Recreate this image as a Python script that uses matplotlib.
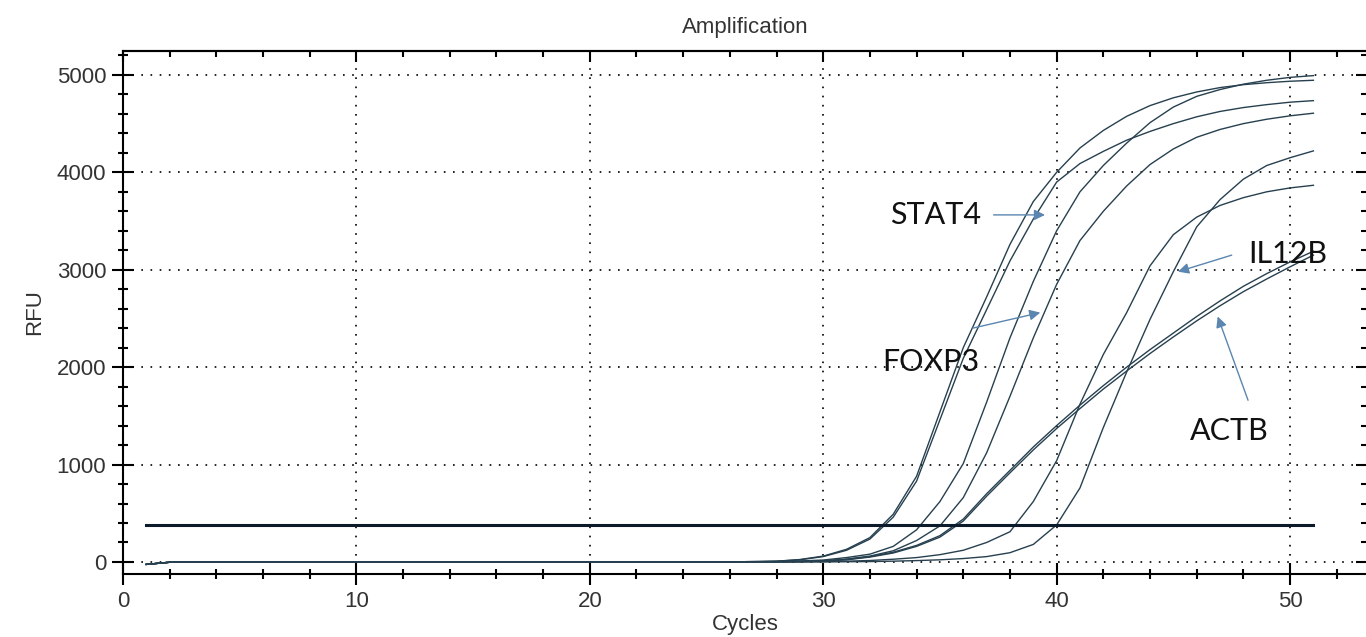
import numpy as np
import matplotlib.pyplot as plt
from matplotlib.ticker import MultipleLocator

plt.rcParams['font.family'] = ['Liberation Sans', 'DejaVu Sans']

cycles = np.arange(1, 52)

# flat part, cycles 1-27 (same for every well)
baseline = [-25, -3, -1, 0, 1, 0, 0, 1, 0, 0, 0, 1, 0, 0, 0, 0, 1, 0, 0, 0,
            0, 1, 0, 1, 1, 2, 3]

# RFU, cycles 28-51
stat4_a = [8, 25, 60, 130, 250, 490, 880, 1540, 2200, 2720, 3260, 3700, 4000,
           4250, 4430, 4575, 4685, 4765, 4825, 4870, 4900, 4920, 4935, 4945]
stat4_b = [7, 22, 55, 120, 235, 460, 830, 1460, 2090, 2590, 3090, 3520, 3900,
           4090, 4215, 4330, 4420, 4500, 4570, 4625, 4665, 4695, 4720, 4736]
foxp3_a = [5, 10, 20, 45, 80, 160, 330, 620, 1010, 1640, 2300, 2880, 3400,
           3800, 4070, 4300, 4510, 4670, 4780, 4850, 4905, 4945, 4975, 4993]
foxp3_b = [3, 6, 12, 30, 60, 115, 220, 370, 660, 1120, 1700, 2300, 2850,
           3300, 3600, 3860, 4080, 4240, 4360, 4440, 4500, 4545, 4580, 4607]
actb_a = [2, 5, 10, 25, 55, 100, 170, 270, 440, 700, 940, 1180, 1400,
          1610, 1810, 2000, 2180, 2350, 2520, 2680, 2830, 2960, 3080, 3190]
actb_b = [2, 4, 8, 22, 50, 92, 160, 255, 420, 675, 915, 1150, 1370,
          1575, 1775, 1960, 2140, 2310, 2475, 2630, 2775, 2905, 3030, 3150]
il12b_a = [1, 2, 3, 8, 15, 28, 45, 75, 120, 200, 310, 620, 1040,
           1620, 2130, 2560, 3040, 3360, 3540, 3660, 3740, 3800, 3840, 3867]
il12b_b = [0, 1, 1, 2, 4, 8, 14, 22, 35, 55, 95, 180, 380,
           760, 1380, 1950, 2490, 2980, 3440, 3720, 3930, 4070, 4150, 4220]

threshold = 380

# gene labels: (text, text pos, arrow tail, arrow head)
labels = [
    ('STAT4', (34.8, 3560), (37.3, 3563), (39.5, 3563)),
    ('FOXP3', (34.6, 2050), (36.4, 2400), (39.3, 2560)),
    ('IL12B', (49.9, 3160), (47.5, 3150), (45.2, 2980)),
    ('ACTB', (47.4, 1340), (48.2, 1660), (46.9, 2520)),
]

fig = plt.figure(figsize=(13.66, 6.37), dpi=100)
ax = fig.add_axes([0.090, 0.099, 0.9108, 0.821])

line_col = '#27404f'
for curve in [stat4_a, stat4_b, foxp3_a, foxp3_b, actb_a, actb_b, il12b_a, il12b_b]:
    ax.plot(cycles, baseline + curve, color=line_col, lw=1.0)

ax.plot([cycles[0], cycles[-1]], [threshold, threshold], color='#0b1b2b', lw=2.2)

for txt, pos, tail, head in labels:
    ax.text(pos[0], pos[1], txt, fontsize=22, family=['Lato', 'DejaVu Sans'],
            ha='center', va='center', color='#111111')
    ax.annotate('', xy=head, xytext=tail,
                arrowprops=dict(arrowstyle='-|>', color='#5a86b0', lw=1.0,
                                mutation_scale=16, shrinkA=0, shrinkB=0))

ax.set_xlim(0, 53.3)
ax.set_ylim(-123, 5246)
ax.xaxis.set_major_locator(MultipleLocator(10))
ax.xaxis.set_minor_locator(MultipleLocator(2))
ax.yaxis.set_major_locator(MultipleLocator(1000))
ax.yaxis.set_minor_locator(MultipleLocator(200))

ax.grid(True, which='major', color='black', linestyle=(0, (1, 4.5)), lw=1.2)

for s in ax.spines.values():
    s.set_linewidth(1.5)

ax.tick_params(which='both', direction='inout', width=1.5, labelsize=16,
               labelcolor='#333333')
ax.tick_params(which='major', length=16, pad=4)
ax.tick_params(which='minor', length=7.5)

# inward ticks on top and right, no labels
top = ax.secondary_xaxis('top')
top.xaxis.set_major_locator(MultipleLocator(10))
top.xaxis.set_minor_locator(MultipleLocator(2))
top.tick_params(which='both', direction='in', width=1.5, labeltop=False)
right = ax.secondary_yaxis('right')
right.yaxis.set_major_locator(MultipleLocator(1000))
right.yaxis.set_minor_locator(MultipleLocator(200))
right.tick_params(which='both', direction='in', width=1.5, labelright=False)
for sec in (top, right):
    sec.tick_params(which='major', length=8)
    sec.tick_params(which='minor', length=4.5)
    for s in sec.spines.values():
        s.set_linewidth(1.5)

ax.set_title('Amplification', fontsize=16, color='#333333', pad=13)
ax.set_xlabel('Cycles', fontsize=16, color='#333333', labelpad=2)
ax.set_ylabel('RFU', fontsize=16, color='#333333', labelpad=8)

fig.savefig('out.png', dpi=100)
